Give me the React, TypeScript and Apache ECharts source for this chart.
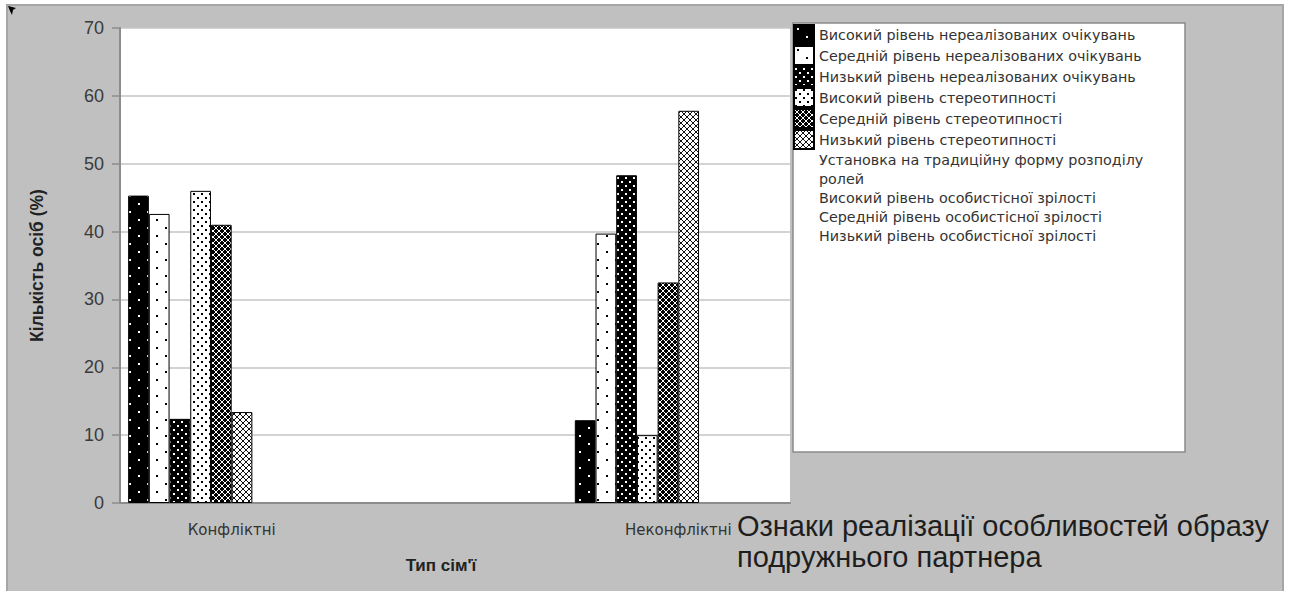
import React, { useEffect, useRef } from 'react';
import * as echarts from 'echarts';

const categories = ['Конфліктні', '', 'Неконфліктні'];

const seriesNames = [
  'Високий рівень нереалізованих очікувань',
  'Середній рівень нереалізованих очікувань',
  'Низький рівень нереалізованих очікувань',
  'Високий рівень стереотипності',
  'Середній рівень стереотипності',
  'Низький рівень стереотипності',
  'Установка на традиційну форму розподілу ролей',
  'Високий рівень особистісної зрілості',
  'Середній рівень особистісної зрілості',
  'Низький рівень особистісної зрілості',
];

const highUnmet: (number | null)[] = [45.3, null, 12.2];
const midUnmet: (number | null)[] = [42.6, null, 39.7];
const lowUnmet: (number | null)[] = [12.4, null, 48.3];
const highStereo: (number | null)[] = [46.0, null, 10.0];
const midStereo: (number | null)[] = [41.0, null, 32.5];
const lowStereo: (number | null)[] = [13.4, null, 57.8];
const traditionalRoles: (number | null)[] = [null, null, null];
const highMaturity: (number | null)[] = [null, null, null];
const midMaturity: (number | null)[] = [null, null, null];
const lowMaturity: (number | null)[] = [null, null, null];

const yTicks = { min: 0, max: 70, interval: 10 };

const seriesValues = [
  highUnmet, midUnmet, lowUnmet, highStereo, midStereo, lowStereo,
  traditionalRoles, highMaturity, midMaturity, lowMaturity,
];

function makePattern(w: number, h: number, bg: string, fg: string, draw: (ctx: CanvasRenderingContext2D) => void) {
  const c = document.createElement('canvas');
  c.width = w;
  c.height = h;
  const ctx = c.getContext('2d') as CanvasRenderingContext2D;
  ctx.fillStyle = bg;
  ctx.fillRect(0, 0, w, h);
  ctx.fillStyle = fg;
  draw(ctx);
  return { image: c, repeat: 'repeat', imageWidth: w, imageHeight: h };
}

function sparseDots(ctx: CanvasRenderingContext2D) {
  ctx.fillRect(3, 3, 2, 2);
  ctx.fillRect(12, 11, 2, 2);
}
function denseDots(ctx: CanvasRenderingContext2D) {
  ctx.fillRect(1, 1, 2, 2);
  ctx.fillRect(5, 5, 2, 2);
}
function lattice(ctx: CanvasRenderingContext2D) {
  for (let i = 0; i < 6; i++) {
    ctx.fillRect(i, i, 1, 1);
    ctx.fillRect(5 - i, i, 1, 1);
  }
}

export default function App() {
  const ref = useRef<HTMLDivElement>(null);
  useEffect(() => {
    if (!ref.current) return;
    const chart = echarts.init(ref.current, undefined, { renderer: 'svg' });

    const fills: any[] = [
      makePattern(18, 16, '#000', '#fff', sparseDots),
      makePattern(18, 16, '#fff', '#000', sparseDots),
      makePattern(8, 8, '#000', '#fff', denseDots),
      makePattern(8, 8, '#fff', '#000', denseDots),
      makePattern(6, 6, '#000', '#fff', lattice),
      makePattern(6, 6, '#fff', '#111', lattice),
      'transparent', 'transparent', 'transparent', 'transparent',
    ];

    const series = seriesNames.map((name, i) => ({
      name,
      type: 'bar',
      barGap: '0%',
      barCategoryGap: '7.3%',
      data: seriesValues[i].map((v) => (v == null ? '-' : v)),
      itemStyle: {
        color: fills[i],
        borderColor: i < 6 ? '#000' : 'transparent',
        borderWidth: i < 6 ? 1 : 0,
      },
      emphasis: { disabled: true },
    }));

    chart.setOption({
      animation: false,
      backgroundColor: '#ffffff',
      textStyle: { fontFamily: 'Liberation Sans' },
      graphic: [
        {
          type: 'rect',
          z: -100,
          shape: { x: 7, y: 5, width: 1276, height: 590 },
          style: { fill: '#c0c0c0', stroke: '#a6a6a6', lineWidth: 2 },
        },
        {
          type: 'polygon',
          z: 10,
          shape: { points: [[8, 6], [16, 8], [13, 10], [12, 15], [10, 11]] },
          style: { fill: '#000' },
        },
        {
          type: 'rect',
          z: 1,
          shape: { x: 793, y: 23, width: 392, height: 429 },
          style: { fill: '#ffffff', stroke: '#8a8a8a', lineWidth: 1.5 },
        },
      ],
      title: [
        {
          text: 'Ознаки реалізації особливостей образу\nподружнього партнера',
          left: 737,
          top: 510,
          padding: 0,
          textStyle: {
            fontFamily: 'Liberation Sans',
            fontSize: 29,
            lineHeight: 31,
            fontWeight: 'normal',
            color: '#1e1e1e',
          },
        },
      ],
      legend: {
        orient: 'vertical',
        left: 793,
        top: 24,
        padding: 0,
        itemWidth: 20,
        itemHeight: 19,
        itemGap: 0,
        icon: 'rect',
        selectedMode: false,
        data: seriesNames,
        formatter: (name: string) =>
          name === seriesNames[6] ? 'Установка на традиційну форму розподілу\nролей' : name,
        textStyle: {
          fontFamily: 'DejaVu Sans',
          fontSize: 14.3,
          lineHeight: 19,
          color: '#333',
        },
      },
      grid: {
        left: 120,
        top: 28,
        width: 670,
        height: 475,
        show: true,
        backgroundColor: '#ffffff',
        borderWidth: 0,
      },
      xAxis: {
        type: 'category',
        data: categories,
        name: "Тип сім'ї",
        nameLocation: 'middle',
        nameGap: 54,
        nameTextStyle: {
          fontFamily: 'Liberation Sans',
          fontSize: 17,
          fontWeight: 'bold',
          color: '#222',
          padding: [0, 28, 0, 0],
        },
        axisLine: { lineStyle: { color: '#8c8c8c', width: 2 } },
        axisTick: { length: 10, lineStyle: { color: '#8c8c8c', width: 1.5 } },
        axisLabel: {
          fontFamily: 'DejaVu Sans',
          fontSize: 15,
          color: '#333',
          margin: 19,
          interval: 0,
        },
      },
      yAxis: {
        type: 'value',
        min: yTicks.min,
        max: yTicks.max,
        interval: yTicks.interval,
        name: 'Кількість осіб (%)',
        nameLocation: 'middle',
        nameGap: 74,
        nameRotate: 90,
        nameTextStyle: {
          fontFamily: 'Liberation Sans',
          fontSize: 17.5,
          fontWeight: 'bold',
          color: '#222',
        },
        axisLine: { show: true, lineStyle: { color: '#8c8c8c', width: 2 } },
        axisTick: { show: true, length: 8, lineStyle: { color: '#8c8c8c', width: 1.5 } },
        axisLabel: {
          fontFamily: 'Liberation Sans',
          fontSize: 18,
          color: '#3a3a3a',
          margin: 16,
        },
        splitLine: { lineStyle: { color: '#c4c4c4', width: 1.5 } },
      },
      series,
    });

    return () => chart.dispose();
  }, []);

  return (
    <div
      ref={ref}
      style={{ position: 'fixed', left: 0, top: 0, width: 1290, height: 591 }}
    />
  );
}
